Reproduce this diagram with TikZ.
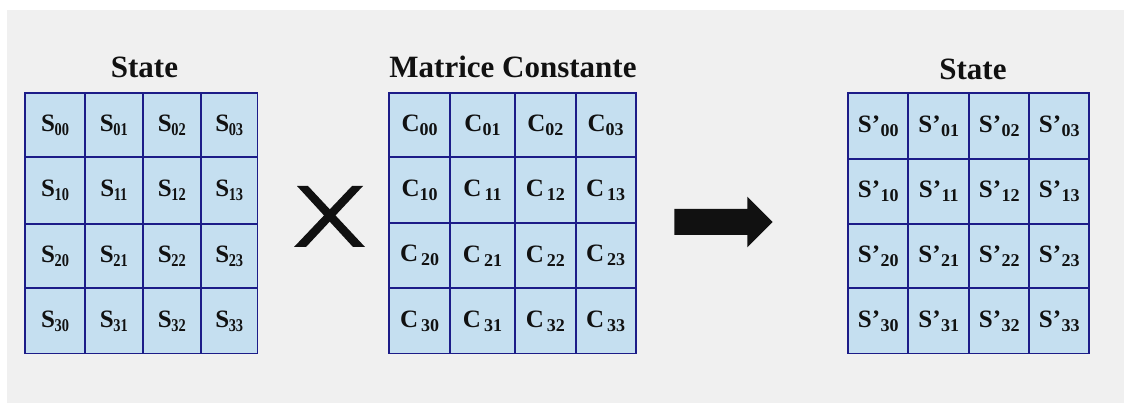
\documentclass[tikz,border=0pt]{standalone}
\usepackage{fontspec}
\usepackage{graphicx}
\setmainfont{Liberation Serif}
\definecolor{bgcol}{HTML}{F0F0F0}
\definecolor{cellfill}{HTML}{C5DFF0}
\definecolor{cellline}{HTML}{1C1C88}
\definecolor{ink}{HTML}{111111}
\newcommand{\bigLetter}[1]{{\fontsize{25}{25}\selectfont\bfseries #1}}
\newcommand{\subIdx}[1]{\raisebox{-4pt}{\fontsize{18}{18}\selectfont\bfseries #1}}
\newcommand{\stxt}[1]{\raisebox{-2pt}{\bigLetter{S}\kern-0.5pt\subIdx{\scalebox{0.8}[1]{#1}}}}
\newcommand{\ctxt}[2]{\raisebox{-2pt}{\bigLetter{C}\hspace{#2}\subIdx{#1}}}
\newcommand{\sptxt}[1]{\raisebox{-2pt}{\bigLetter{S’}\kern0.5pt\subIdx{#1}}}
\tikzset{
  cell/.style={draw=cellline, fill=cellfill, line width=1.8pt, inner sep=0pt, text=ink},
  gridtitle/.style={anchor=base, inner sep=0pt, font=\fontsize{31}{31}\selectfont\bfseries, text=ink},
  symb/.style={fill=ink, draw=none}
}
\begin{document}
\begin{tikzpicture}[x=1pt,y=-1pt]
\useasboundingbox (0,0) rectangle (1124,403);
\fill[white] (0,0) rectangle (1124,403);
\fill[bgcol] (7,10) rectangle (1124,403);
% titles
\node[gridtitle] (tL) at (144.5,78) {State};
\node[gridtitle] (tM) at (513,77.5) {Matrice Constante};
\node[gridtitle] (tR) at (973,80) {State};
% left grid
\foreach \r/\ya/\yb in {0/92.7/157.3,1/157.3/223.7,2/223.7/288.3,3/288.3/353.5}{
  \foreach \c/\xa/\xb in {0/25.3/85,1/85/142.7,2/142.7/201,3/201/257.5}{
    \pgfmathsetmacro\w{\xb-\xa}\pgfmathsetmacro\h{\yb-\ya}
    \node[cell,minimum width=\w pt,minimum height=\h pt] (L\r\c) at ({(\xa+\xb)/2},{(\ya+\yb)/2}) {\stxt{\r\c}};
  }}
% middle grid
\foreach \r/\ya/\yb in {0/92.7/157,1/157/223.3,2/223.3/288.3,3/288.3/353.5}{
  \foreach \c/\xa/\xb in {0/389.3/450,1/450/515,2/515/575.7,3/575.7/635.7}{
    \pgfmathsetmacro\w{\xb-\xa}\pgfmathsetmacro\h{\yb-\ya}
    \pgfmathsetmacro\g{(\r>1 || (\r==1 && \c>0)) ? 3 : 0}
    \node[cell,minimum width=\w pt,minimum height=\h pt] (M\r\c) at ({(\xa+\xb)/2},{(\ya+\yb)/2}) {\ctxt{\r\c}{\g pt}};
  }}
% right grid
\foreach \r/\ya/\yb in {0/92.7/159.3,1/159.3/224,2/224/288.3,3/288.3/353.5}{
  \foreach \c/\xa/\xb in {0/848.3/908.3,1/908.3/969.3,2/969.3/1029.3,3/1029.3/1089.3}{
    \pgfmathsetmacro\w{\xb-\xa}\pgfmathsetmacro\h{\yb-\ya}
    \node[cell,minimum width=\w pt,minimum height=\h pt] (R\r\c) at ({(\xa+\xb)/2},{(\ya+\yb)/2}) {\sptxt{\r\c}};
  }}
% multiplication cross
\fill[symb] (297,186) -- (308,186) -- (365,247) -- (353,247) -- cycle;
\fill[symb] (352,186) -- (363,186) -- (306,247) -- (294,247) -- cycle;
% arrow
\fill[symb] (674.3,209) -- (747.3,209) -- (747.3,196.7) -- (772.7,222) -- (747.3,247.3) -- (747.3,235) -- (674.3,235) -- cycle;
\end{tikzpicture}
\end{document}
